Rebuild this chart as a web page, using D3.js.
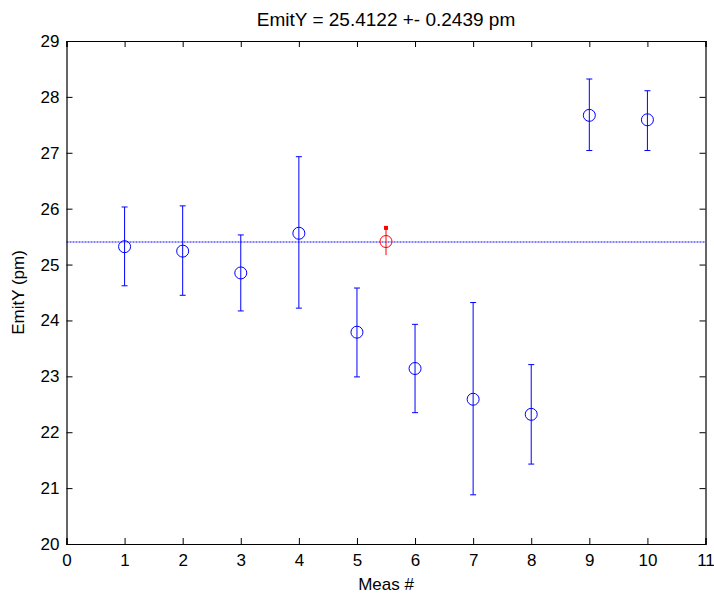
<!DOCTYPE html>
<html><head><meta charset="utf-8">
<script src="https://cdn.jsdelivr.net/npm/d3@7"></script>
<style>body{margin:0;background:#fff}svg{display:block}text{font-family:"Liberation Sans",Arial,sans-serif;fill:#000}</style>
</head><body>
<svg id="c" width="714" height="594"></svg>
<script>
const measX = [1,2,3,4,5,6,7,8,9,10];
const emitY = [25.32,25.24,24.85,25.56,23.79,23.14,22.59,22.32,27.67,27.59];
const errHigh = [26.03,26.05,25.53,26.93,24.58,23.93,24.32,23.21,28.32,28.11];
const errLow = [24.62,24.45,24.17,24.22,22.99,22.35,20.88,21.43,27.04,27.04];
const meanX = 5.5;
const meanVal = 25.4122;
const meanErr = 0.2439;
const xTicks = [0,1,2,3,4,5,6,7,8,9,10,11];
const yTicks = [20,21,22,23,24,25,26,27,28,29];
const titleText = "EmitY = 25.4122 +- 0.2439 pm";
const xLabel = "Meas #";
const yLabel = "EmitY (pm)";

const svg = d3.select("#c");
const L=66.5, R=705.5, T=41, B=544;
const x = d3.scaleLinear().domain([0,11]).range([L,R]);
const y = d3.scaleLinear().domain([20,29]).range([B,T]);
const tl = 6;

// mean line (dotted, blue)
const my = y(meanVal) + 0.5;
svg.append("line").attr("x1",L).attr("x2",R).attr("y1",my).attr("y2",my)
  .attr("stroke","#0000ff").attr("stroke-width",1.2).attr("stroke-dasharray","2,1");

// error bars
const g = svg.append("g");
measX.forEach((mx,i)=>{
  const cx = x(mx);
  g.append("line").attr("x1",cx).attr("x2",cx).attr("y1",y(errLow[i])).attr("y2",y(errHigh[i])).attr("stroke","#0000ff").attr("stroke-width",1);
  [errLow[i],errHigh[i]].forEach(v=>g.append("line").attr("x1",cx-3).attr("x2",cx+3).attr("y1",y(v)).attr("y2",y(v)).attr("stroke","#0000ff").attr("stroke-width",1));
  g.append("circle").attr("cx",cx).attr("cy",y(emitY[i])).attr("r",6).attr("fill","none").attr("stroke","#0000ff").attr("stroke-width",1);
});
// red mean point
const rx = x(meanX);
svg.append("line").attr("x1",rx).attr("x2",rx).attr("y1",y(meanVal-meanErr)).attr("y2",y(meanVal+meanErr)).attr("stroke","#ff0000").attr("stroke-width",1);
svg.append("rect").attr("x",rx-2).attr("y",y(meanVal+meanErr)-2).attr("width",4).attr("height",4).attr("fill","#ff0000");
svg.append("circle").attr("cx",rx).attr("cy",y(meanVal)).attr("r",6).attr("fill","none").attr("stroke","#ff0000").attr("stroke-width",1);

// axes
const fs = "17px";
const ax = svg.append("g").attr("transform",`translate(0,${B})`).call(d3.axisBottom(x).tickValues(xTicks).tickSize(-tl).tickPadding(10).tickFormat(d3.format("d")));
const axT = svg.append("g").attr("transform",`translate(0,${T})`).call(d3.axisTop(x).tickValues(xTicks).tickSize(-tl).tickFormat(""));
const ay = svg.append("g").attr("transform",`translate(${L},0)`).call(d3.axisLeft(y).tickValues(yTicks).tickSize(-tl).tickPadding(7).tickFormat(d3.format("d")));
const ayR = svg.append("g").attr("transform",`translate(${R},0)`).call(d3.axisRight(y).tickValues(yTicks).tickSize(-tl).tickFormat(""));
[ax,axT,ay,ayR].forEach(a=>{a.attr("font-family",null).attr("font-size",null);a.select(".domain").attr("stroke","#000").attr("stroke-width",1.2);a.selectAll(".tick line").attr("stroke","#000");a.selectAll("text").style("font-size",fs);});
ax.selectAll("text").attr("y",10).attr("dy","0.71em");

svg.append("text").attr("x",(L+R)/2).attr("y",26).attr("text-anchor","middle").style("font-size","19px").text(titleText);
svg.append("text").attr("x",(L+R)/2).attr("y",590).attr("text-anchor","middle").style("font-size","17px").text(xLabel);
svg.append("text").attr("transform",`translate(24,${(T+B)/2}) rotate(-90)`).attr("text-anchor","middle").style("font-size","17px").text(yLabel);
</script>
</body></html>
